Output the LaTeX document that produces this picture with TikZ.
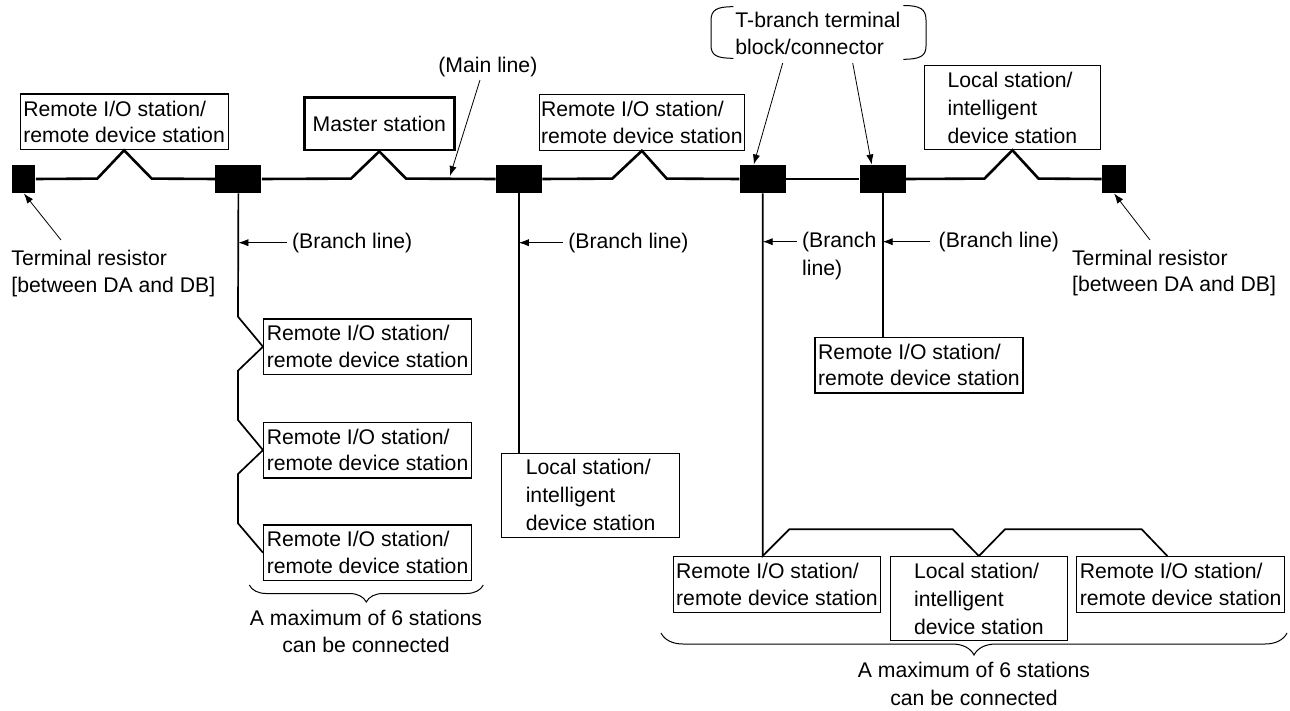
\documentclass[tikz,border=0pt]{standalone}
\usepackage{fontspec}
\setmainfont{Liberation Sans}
\usetikzlibrary{arrows.meta,decorations.pathreplacing,calc}
\begin{document}
\begin{tikzpicture}[x=0.5pt,y=-0.5pt,
  fs/.style={font=\fontsize{10.6}{13.3}\selectfont},
  box/.style={draw, line width=0.6pt, inner xsep=1pt, inner ysep=0pt, align=left, anchor=north west, fs},
  rbox/.style={box, minimum width=104pt, minimum height=27.8pt},
  lbox/.style={box, minimum width=88.3pt, minimum height=42pt, font=\fontsize{10.6}{14}\selectfont},
  blk/.style={fill=black, inner sep=0pt, minimum height=14.1pt, anchor=north west},
  mainline/.style={line width=1.3pt},
  branch/.style={line width=0.85pt},
  arr/.style={line width=0.4pt, -{Latex[length=5pt,width=3.6pt]}},
  lbl/.style={fs, inner sep=0pt, align=left},
  brk/.style={line width=0.5pt}
]
\useasboundingbox (0,0) rectangle (1290,711);

% blocks on the main line
\node[blk, minimum width=11.5pt] (tr1) at (12,164.5) {};
\node[blk, minimum width=23pt] (b1) at (215,164.5) {};
\node[blk, minimum width=23pt] (b2) at (495.5,164.5) {};
\node[blk, minimum width=23pt] (b3) at (739.3,164.5) {};
\node[blk, minimum width=23pt] (b4) at (859.3,164.5) {};
\node[blk, minimum width=12pt] (tr2) at (1101.7,164.5) {};

% stations on the main line
\node[rbox] (tl) at (19.5,93.5) {Remote I/O station/\\remote device station};
\node[box, align=center, line width=1.4pt, minimum width=74.8pt, minimum height=26.1pt] (ms) at (303.1,96.4) {Master station};
\node[rbox, minimum width=101.5pt] (mt) at (538.5,94) {Remote I/O station/\\remote device station};
\node[lbox] (rt) at (923.5,65) {Local station/\\intelligent\\device station};

% stations on branch lines
\node[rbox] (bA) at (263,318.3) {Remote I/O station/\\remote device station};
\node[rbox] (bB) at (263,421.7) {Remote I/O station/\\remote device station};
\node[rbox] (bC) at (263,524.3) {Remote I/O station/\\remote device station};
\node[lbox, minimum width=89pt] (ml) at (501,452.7) {Local station/\\intelligent\\device station};
\node[rbox] (rb) at (814.3,336.7) {Remote I/O station/\\remote device station};
\node[rbox, minimum width=103.6pt] (bl) at (672.7,556) {Remote I/O station/\\remote device station};
\node[lbox] (bm) at (890,556) {Local station/\\intelligent\\device station};
\node[rbox] (br) at (1076,556) {Remote I/O station/\\remote device station};

% main line
\draw[mainline] (tr1.east) -- (97.3,178.6) -- (tl.south) -- (151.7,178.6) -- (b1.west);
\draw[mainline] (b1.east) -- (351,178.6) -- (ms.south) -- (406,178.6) -- (b2.west);
\draw[mainline] (b2.east) -- (612.3,178.6) -- (mt.south) -- (666.7,178.6) -- (b3.west);
\draw[mainline] (b3.east) -- (b4.west);
\draw[mainline] (b4.east) -- (984.5,178.6) -- (rt.south) -- (1038.5,178.6) -- (tr2.west);

% branch lines
\draw[branch] (b1.south) -- (238,316.7) -- (bA.west) -- (238,370.7) -- (238,420) -- (bB.west) -- (238,474) -- (238,523.3) -- (bC.west);
\draw[branch] (b2.south) -- (b2.south |- ml.north);
\draw[branch] (b3.south) -- (b3.south |- bl.north) -- (789.3,529.3) -- (952.7,529.3) -- (bm.north) -- (1005,529.3) -- (1141.7,529.3) -- ([xshift=45.65pt]br.north west);
\draw[branch] (b4.south) -- (b4.south |- rb.north);

% main line label
\node[lbl, anchor=west] (mainlbl) at (438,67) {(Main line)};
\coordinate (mls) at (480,80);
\coordinate (mlt) at (450,176);
\draw[arr] (mls) -- (mlt);

% T-branch label
\node[lbl, anchor=west, font=\fontsize{10.6}{13.5}\selectfont] (tb) at (735,33.5) {T-branch terminal\\block/connector};
\draw[brk] (733.3,6.7) .. controls (716,6.7) and (711,10) .. (711,21) -- (711,45) .. controls (711,55) and (716,58.3) .. (733.3,58.3);
\draw[brk] (903.3,5.5) .. controls (920,5.5) and (926,9) .. (926,20) -- (926,46) .. controls (926,56) and (920,59.3) .. (903.3,59.3);
\coordinate (ta1) at (782.7,63);
\coordinate (ta2) at (852.7,63);
\draw[arr] (ta1) -- ([xshift=-4.5pt]b3.north);
\draw[arr] (ta2) -- ([xshift=-5.5pt]b4.north);

% terminal resistors
\node[lbl, anchor=west] (trl) at (11,273.3) {Terminal resistor\\{}[between DA and DB]};
\node[lbl, anchor=west] (trr) at (1071.7,273) {Terminal resistor\\{}[between DA and DB]};
\coordinate (tra1) at (61,240);
\coordinate (tra2) at (1150,240);
\draw[arr] (tra1) -- (tr1.south);
\draw[arr] (tra2) -- (tr2.south);

% branch line labels
\node[lbl, anchor=west] (bl1) at (291.7,242.7) {(Branch line)};
\draw[arr] ([xshift=-2.5pt]bl1.west) -- (bl1.west -| b1.south);
\node[lbl, anchor=west] (bl2) at (568,242.7) {(Branch line)};
\draw[arr] ([xshift=-2.5pt]bl2.west) -- (bl2.west -| b2.south);
\node[lbl, anchor=west, font=\fontsize{10.6}{14}\selectfont] (bl3) at (801.7,256) {(Branch\\line)};
\coordinate (a3s) at (796.7,241.7);
\draw[arr] (a3s) -- (a3s -| b3.south);
\node[lbl, anchor=west] (bl4) at (938.3,241.7) {(Branch line)};
\draw[arr] ([xshift=-4pt]bl4.west) -- (bl4.west -| b4.south);

% braces
\coordinate (brL1) at (249.3,585);
\coordinate (brL2) at (483.3,585);
\draw[brk, decorate, decoration={brace, mirror, amplitude=8.5pt}] (brL1) -- (brL2);
\node[lbl, align=center, font=\fontsize{10.6}{13.5}\selectfont] (mx1) at (366,631.5) {A maximum of 6 stations\\can be connected};
\coordinate (brR1) at (661,633);
\coordinate (brR2) at (1287,633);
\draw[brk, decorate, decoration={brace, mirror, amplitude=11pt}] (brR1) -- (brR2);
\node[lbl, align=center, font=\fontsize{10.6}{14}\selectfont] (mx2) at (974,684) {A maximum of 6 stations\\can be connected};
\end{tikzpicture}
\end{document}
